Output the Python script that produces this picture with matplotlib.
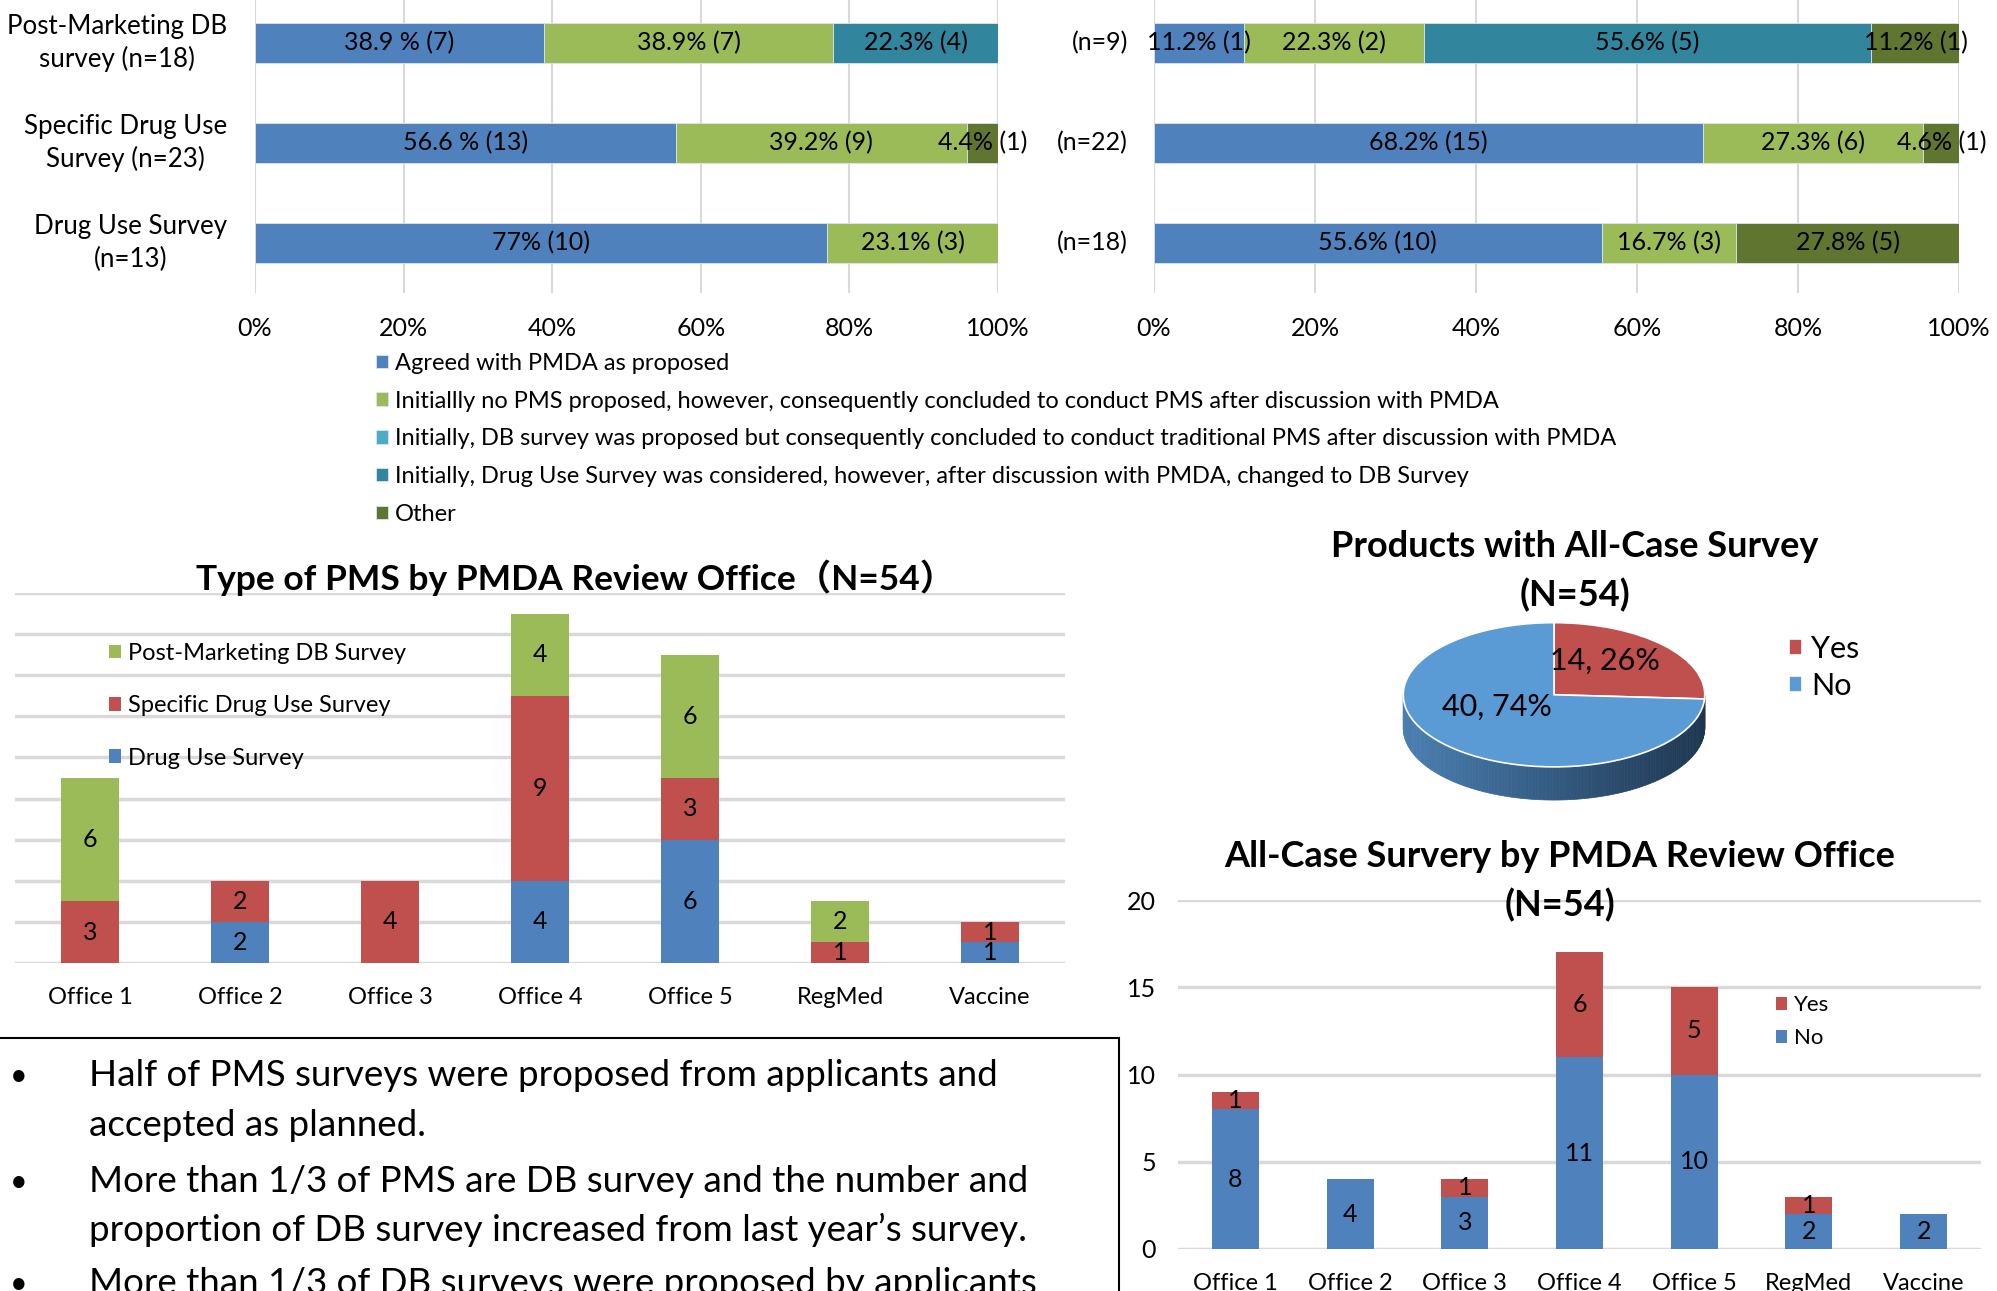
import numpy as np
import matplotlib
matplotlib.use("Agg")
import matplotlib.pyplot as plt
from matplotlib.patches import Rectangle, Polygon
from matplotlib.transforms import blended_transform_factory

W, H = 1997, 1291
plt.rcParams['font.family'] = ['Lato', 'Noto Sans CJK JP', 'DejaVu Sans']

# ---- data ----
outcome_names = [
    "Agreed with PMDA as proposed",
    "Initiallly no PMS proposed, however, consequently concluded to conduct PMS after discussion with PMDA",
    "Initially, DB survey was proposed but consequently concluded to conduct traditional PMS after discussion with PMDA",
    "Initially, Drug Use Survey was considered, however, after discussion with PMDA, changed to DB Survey",
    "Other",
]
outcome_colors = ["#4F81BD", "#9BBB59", "#4BACC6", "#31859C", "#5F7530"]

left_rows = ["Post-Marketing DB\nsurvey (n=18)", "Specific Drug Use\nSurvey (n=23)", "Drug Use Survey\n(n=13)"]
left_pct = [[38.9, 56.6, 77.0], [38.9, 39.2, 23.1], [0, 0, 0], [22.3, 0, 0], [0, 4.4, 0]]
left_labels = [["38.9 % (7)", "56.6 % (13)", "77% (10)"],
               ["38.9% (7)", "39.2% (9)", "23.1% (3)"],
               ["", "", ""],
               ["22.3% (4)", "", ""],
               ["", "4.4% (1)", ""]]

right_rows = ["(n=9)", "(n=22)", "(n=18)"]
right_pct = [[11.2, 68.2, 55.6], [22.3, 27.3, 16.7], [0, 0, 0], [55.6, 0, 0], [11.2, 4.6, 27.8]]
right_labels = [["11.2% (1)", "68.2% (15)", "55.6% (10)"],
                ["22.3% (2)", "27.3% (6)", "16.7% (3)"],
                ["", "", ""],
                ["55.6% (5)", "", ""],
                ["11.2% (1)", "4.6% (1)", "27.8% (5)"]]

offices = ["Office 1", "Office 2", "Office 3", "Office 4", "Office 5", "RegMed", "Vaccine"]
pms_types = ["Drug Use Survey", "Specific Drug Use Survey", "Post-Marketing DB Survey"]
pms_colors = ["#4F81BD", "#C0504D", "#9BBB59"]
pms_counts = [[0, 2, 0, 4, 6, 0, 1],
              [3, 2, 4, 9, 3, 1, 1],
              [6, 0, 0, 4, 6, 2, 0]]

allcase_names = ["Yes", "No"]
allcase_totals = [14, 40]
allcase_yes = [1, 0, 1, 6, 5, 1, 0]
allcase_no = [8, 4, 3, 11, 10, 2, 2]

bullet_lines = [
    ["Half of PMS surveys were proposed from applicants and", "accepted as planned."],
    ["More than 1/3 of PMS are DB survey and the number and", "proportion of DB survey increased from last year\u2019s survey."],
    ["More than 1/3 of DB surveys were proposed by applicants"],
]


def px_rect(l, t, r, b):
    return [l / W, 1 - b / H, (r - l) / W, (b - t) / H]


def fx(x):
    return x / W


def fy(y):
    return 1 - y / H


def clean(ax):
    for s in ax.spines.values():
        s.set_visible(False)


def stacked_hbar(ax, pct, labels):
    y = np.arange(3)
    left = np.zeros(3)
    for k in range(len(pct)):
        vals = np.array(pct[k], dtype=float)
        ax.barh(y, vals, left=left, height=0.4, color=outcome_colors[k],
                edgecolor="#dbe5f1", linewidth=0.6, label=outcome_names[k], zorder=2)
        for i in range(3):
            if vals[i] > 0:
                ax.text(left[i] + vals[i] / 2, y[i], labels[k][i],
                        ha="center", va="center", fontsize=18, zorder=3)
        left += vals
    ax.set_xlim(0, 100)
    ax.set_ylim(2.5, -0.5)
    ax.set_xticks(range(0, 101, 20))
    ax.set_xticklabels([f"{v}%" for v in range(0, 101, 20)])
    ax.set_yticks([])
    ax.xaxis.grid(True, color="#d9d9d9", lw=1.5, zorder=0)
    ax.set_axisbelow(True)
    ax.tick_params(axis="x", length=0, pad=17, labelsize=18)
    clean(ax)


fig = plt.figure(figsize=(W / 100, H / 100), dpi=100)

# ---- top left / top right stacked percentage bars ----
ax1 = fig.add_axes(px_rect(255, -7, 998, 293))
stacked_hbar(ax1, left_pct, left_labels)
tr1 = blended_transform_factory(ax1.transAxes, ax1.transData)
for i, lab in enumerate(left_rows):
    ax1.text(-(255 - 227) / 743, i, lab, transform=tr1, ha="right", va="center",
             multialignment="center", fontsize=18.6, linespacing=1.35)

ax2 = fig.add_axes(px_rect(1154, -7, 1959, 293))
stacked_hbar(ax2, right_pct, right_labels)
tr2 = blended_transform_factory(ax2.transAxes, ax2.transData)
for i, lab in enumerate(right_rows):
    ax2.text(-(1154 - 1128) / 805, i, lab, transform=tr2, ha="right", va="center", fontsize=18)

h, l = ax1.get_legend_handles_labels()
fig.legend(h, l, loc="upper left", bbox_to_anchor=(fx(364), fy(341)), frameon=False,
           fontsize=17, borderpad=0, handlelength=0.5, handleheight=0.5,
           handletextpad=0.3, labelspacing=0.71)

# ---- Type of PMS by review office ----
ax3 = fig.add_axes(px_rect(15, 593, 1065, 963))
x = np.arange(len(offices))
bottom = np.zeros(len(offices))
for k in range(3):
    vals = np.array(pms_counts[k], dtype=float)
    ax3.bar(x, vals, bottom=bottom, width=0.39, color=pms_colors[k], label=pms_types[k], zorder=2)
    for i in range(len(offices)):
        if vals[i] > 0:
            ax3.text(x[i], bottom[i] + vals[i] / 2, f"{int(vals[i])}", ha="center", va="center",
                     fontsize=18, zorder=3)
    bottom += vals
ax3.set_xlim(-0.5, 6.5)
ax3.set_ylim(0, 18)
ax3.set_yticks(range(0, 19, 2))
ax3.set_yticklabels([])
ax3.set_xticks(x)
ax3.set_xticklabels(offices)
ax3.yaxis.grid(True, color="#d9d9d9", lw=2.5, zorder=0)
ax3.set_axisbelow(True)
ax3.tick_params(length=0, pad=17, labelsize=17)
clean(ax3)
h, l = ax3.get_legend_handles_labels()
fig.legend(h[::-1], l[::-1], loc="upper left", bbox_to_anchor=(fx(97), fy(631)), frameon=False,
           fontsize=17, borderpad=0, handlelength=0.5, handleheight=0.5,
           handletextpad=0.3, labelspacing=1.33)
fig.text(fx(576), fy(578), "Type of PMS by PMDA Review Office\uff08N=54\uff09", ha="center", va="center",
         fontsize=25.5, fontweight="bold")

# ---- pie with all-case survey ----
pie_colors = ["#C0504D", "#5B9BD5"]
axp = fig.add_axes(px_rect(1358, 601, 1750, 839))
depth = 0.46
fracs = np.array(allcase_totals, dtype=float) / sum(allcase_totals)
start = 90.0
for k, f in enumerate(fracs):
    a1, a0 = start, start - 360 * f
    angs = np.linspace(a0, a1, 200)
    for j in range(len(angs) - 1):
        m = np.radians((angs[j] + angs[j + 1]) / 2) % (2 * np.pi)
        if m < np.pi:
            continue
        t = np.radians(angs[j:j + 2])
        pts = [(np.cos(t[0]), np.sin(t[0])), (np.cos(t[1]), np.sin(t[1])),
               (np.cos(t[1]), np.sin(t[1]) - depth), (np.cos(t[0]), np.sin(t[0]) - depth)]
        s = (np.cos(m) + 1) / 2
        if k == 1:
            c0, c1 = np.array([0x4a, 0x7f, 0xb2]), np.array([0x1e, 0x36, 0x50])
        else:
            c0, c1 = np.array([0x8c, 0x35, 0x33]), np.array([0x5a, 0x20, 0x1e])
        col = (c0 + (c1 - c0) * s) / 255
        axp.add_patch(Polygon(pts, closed=True, facecolor=col, edgecolor=col, lw=0.5, zorder=1))
    start = a0
wedges, _ = axp.pie(allcase_totals, colors=pie_colors, startangle=90, counterclock=False,
                    radius=1, wedgeprops=dict(edgecolor="white", linewidth=1.2, zorder=2))
axp.set_aspect("auto")
axp.set_xlim(-1.3, 1.3)
axp.set_ylim(-2.0, 1.3)
axp.axis("off")
pie_label_pos = [(0.34, 0.47), (-0.38, -0.17)]
for v, (px_, py_) in zip(allcase_totals, pie_label_pos):
    axp.text(px_, py_, f"{v}, {round(100 * v / sum(allcase_totals))}%", ha="center", va="center",
             fontsize=22, zorder=5)
fig.legend(wedges, allcase_names, loc="upper left", bbox_to_anchor=(fx(1774), fy(620)), frameon=False,
           fontsize=22, borderpad=0, handlelength=0.42, handleheight=0.42,
           handletextpad=0.3, labelspacing=0.27)
fig.text(fx(1575), fy(571), "Products with All-Case Survey\n(N=54)", ha="center", va="center",
         fontsize=26, fontweight="bold", linespacing=1.52)

# ---- all-case survey by office ----
ax4 = fig.add_axes(px_rect(1178, 900, 1981, 1249))
no = np.array(allcase_no)
yes = np.array(allcase_yes)
b_no = ax4.bar(x, no, width=0.41, color="#4F81BD", label="No", zorder=2)
b_yes = ax4.bar(x, yes, bottom=no, width=0.41, color="#C0504D", label="Yes", zorder=2)
for i in range(len(offices)):
    if no[i] > 0:
        ax4.text(x[i], no[i] / 2, f"{no[i]}", ha="center", va="center", fontsize=18, zorder=3)
    if yes[i] > 0:
        ax4.text(x[i], no[i] + yes[i] / 2, f"{yes[i]}", ha="center", va="center", fontsize=18, zorder=3)
ax4.set_xlim(-0.5, 6.5)
ax4.set_ylim(0, 20)
ax4.set_yticks(range(0, 21, 5))
ax4.set_xticks(x)
ax4.set_xticklabels(offices)
ax4.yaxis.grid(True, color="#d9d9d9", lw=2.5, zorder=0)
ax4.set_axisbelow(True)
ax4.tick_params(axis="x", length=0, pad=17, labelsize=17)
ax4.tick_params(axis="y", length=0, pad=16, labelsize=18)
clean(ax4)
fig.legend([b_yes, b_no], ["Yes", "No"], loc="upper left", bbox_to_anchor=(fx(1765), fy(984)),
           frameon=False, fontsize=16, borderpad=0, handlelength=0.5, handleheight=0.5,
           handletextpad=0.3, labelspacing=0.6)
fig.text(fx(1560), fy(881), "All-Case Survery by PMDA Review Office\n(N=54)", ha="center", va="center",
         fontsize=26, fontweight="bold", linespacing=1.52)

# ---- summary box ----
fig.add_artist(Rectangle((fx(-5), fy(1400)), (1119 + 5) / W, (1400 - 1038) / H,
                         transform=fig.transFigure, facecolor="none", edgecolor="black", lw=1.5))
line_y = [[1076, 1125], [1182, 1230], [1284]]
for lines, ys in zip(bullet_lines, line_y):
    fig.text(fx(19), fy(ys[0]), "\u2022", ha="center", va="center", fontsize=22)
    for txt, yy in zip(lines, ys):
        fig.text(fx(89), fy(yy), txt, ha="left", va="center", fontsize=26.5)

fig.savefig("out.png", dpi=100)
